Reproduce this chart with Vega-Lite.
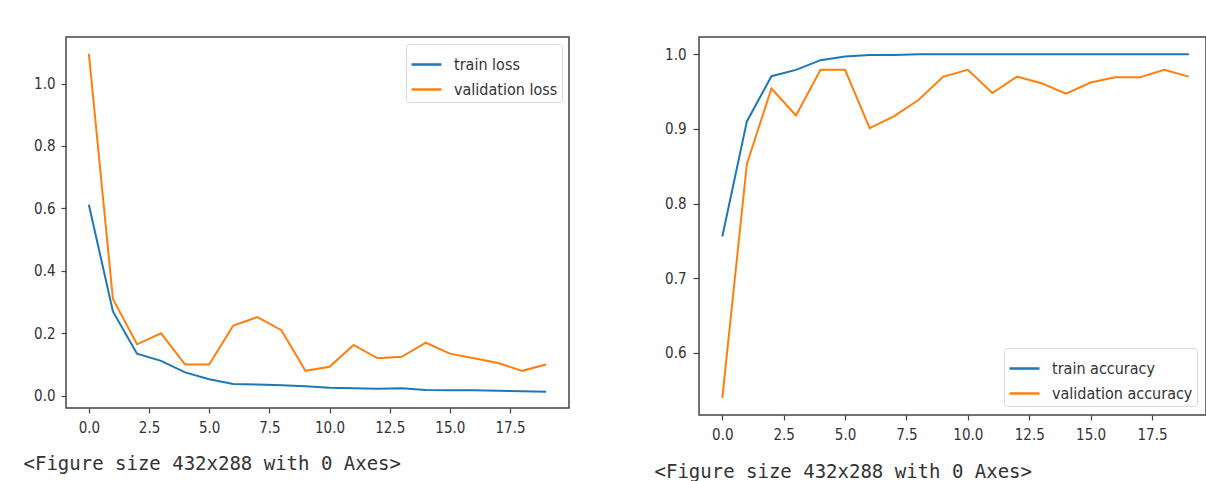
{
  "$schema": "https://vega.github.io/schema/vega-lite/v6.json",
  "padding": {"left": 22, "top": 36, "right": 0, "bottom": 0},
  "bounds": "flush",
  "spacing": 130,
  "background": "white",
  "resolve": {"scale": {"color": "independent"}, "legend": {"color": "independent"}},
  "datasets": {
    "loss": [
      {"epoch": 0, "series": "train loss", "value": 0.612},
      {"epoch": 1, "series": "train loss", "value": 0.27},
      {"epoch": 2, "series": "train loss", "value": 0.135},
      {"epoch": 3, "series": "train loss", "value": 0.112},
      {"epoch": 4, "series": "train loss", "value": 0.075},
      {"epoch": 5, "series": "train loss", "value": 0.053},
      {"epoch": 6, "series": "train loss", "value": 0.038},
      {"epoch": 7, "series": "train loss", "value": 0.036},
      {"epoch": 8, "series": "train loss", "value": 0.034},
      {"epoch": 9, "series": "train loss", "value": 0.031},
      {"epoch": 10, "series": "train loss", "value": 0.026},
      {"epoch": 11, "series": "train loss", "value": 0.024},
      {"epoch": 12, "series": "train loss", "value": 0.023},
      {"epoch": 13, "series": "train loss", "value": 0.024},
      {"epoch": 14, "series": "train loss", "value": 0.019},
      {"epoch": 15, "series": "train loss", "value": 0.018},
      {"epoch": 16, "series": "train loss", "value": 0.018},
      {"epoch": 17, "series": "train loss", "value": 0.016},
      {"epoch": 18, "series": "train loss", "value": 0.015},
      {"epoch": 19, "series": "train loss", "value": 0.013},
      {"epoch": 0, "series": "validation loss", "value": 1.095},
      {"epoch": 1, "series": "validation loss", "value": 0.31},
      {"epoch": 2, "series": "validation loss", "value": 0.165},
      {"epoch": 3, "series": "validation loss", "value": 0.2},
      {"epoch": 4, "series": "validation loss", "value": 0.1},
      {"epoch": 5, "series": "validation loss", "value": 0.1},
      {"epoch": 6, "series": "validation loss", "value": 0.225},
      {"epoch": 7, "series": "validation loss", "value": 0.252},
      {"epoch": 8, "series": "validation loss", "value": 0.21},
      {"epoch": 9, "series": "validation loss", "value": 0.08},
      {"epoch": 10, "series": "validation loss", "value": 0.093},
      {"epoch": 11, "series": "validation loss", "value": 0.163},
      {"epoch": 12, "series": "validation loss", "value": 0.12},
      {"epoch": 13, "series": "validation loss", "value": 0.125},
      {"epoch": 14, "series": "validation loss", "value": 0.17},
      {"epoch": 15, "series": "validation loss", "value": 0.135},
      {"epoch": 16, "series": "validation loss", "value": 0.12},
      {"epoch": 17, "series": "validation loss", "value": 0.105},
      {"epoch": 18, "series": "validation loss", "value": 0.08},
      {"epoch": 19, "series": "validation loss", "value": 0.1}
    ],
    "acc": [
      {"epoch": 0, "series": "train accuracy", "value": 0.756},
      {"epoch": 1, "series": "train accuracy", "value": 0.91},
      {"epoch": 2, "series": "train accuracy", "value": 0.9705},
      {"epoch": 3, "series": "train accuracy", "value": 0.979},
      {"epoch": 4, "series": "train accuracy", "value": 0.992},
      {"epoch": 5, "series": "train accuracy", "value": 0.997},
      {"epoch": 6, "series": "train accuracy", "value": 0.999},
      {"epoch": 7, "series": "train accuracy", "value": 0.999},
      {"epoch": 8, "series": "train accuracy", "value": 1.0},
      {"epoch": 9, "series": "train accuracy", "value": 1.0},
      {"epoch": 10, "series": "train accuracy", "value": 1.0},
      {"epoch": 11, "series": "train accuracy", "value": 1.0},
      {"epoch": 12, "series": "train accuracy", "value": 1.0},
      {"epoch": 13, "series": "train accuracy", "value": 1.0},
      {"epoch": 14, "series": "train accuracy", "value": 1.0},
      {"epoch": 15, "series": "train accuracy", "value": 1.0},
      {"epoch": 16, "series": "train accuracy", "value": 1.0},
      {"epoch": 17, "series": "train accuracy", "value": 1.0},
      {"epoch": 18, "series": "train accuracy", "value": 1.0},
      {"epoch": 19, "series": "train accuracy", "value": 1.0},
      {"epoch": 0, "series": "validation accuracy", "value": 0.54},
      {"epoch": 1, "series": "validation accuracy", "value": 0.853},
      {"epoch": 2, "series": "validation accuracy", "value": 0.954},
      {"epoch": 3, "series": "validation accuracy", "value": 0.918},
      {"epoch": 4, "series": "validation accuracy", "value": 0.979},
      {"epoch": 5, "series": "validation accuracy", "value": 0.979},
      {"epoch": 6, "series": "validation accuracy", "value": 0.901},
      {"epoch": 7, "series": "validation accuracy", "value": 0.917},
      {"epoch": 8, "series": "validation accuracy", "value": 0.939},
      {"epoch": 9, "series": "validation accuracy", "value": 0.97},
      {"epoch": 10, "series": "validation accuracy", "value": 0.979},
      {"epoch": 11, "series": "validation accuracy", "value": 0.948},
      {"epoch": 12, "series": "validation accuracy", "value": 0.97},
      {"epoch": 13, "series": "validation accuracy", "value": 0.961},
      {"epoch": 14, "series": "validation accuracy", "value": 0.947},
      {"epoch": 15, "series": "validation accuracy", "value": 0.962},
      {"epoch": 16, "series": "validation accuracy", "value": 0.969},
      {"epoch": 17, "series": "validation accuracy", "value": 0.969},
      {"epoch": 18, "series": "validation accuracy", "value": 0.979},
      {"epoch": 19, "series": "validation accuracy", "value": 0.97}
    ]
  },
  "config": {
    "view": {"stroke": "#444", "strokeWidth": 1.5},
    "axis": {
      "grid": false,
      "domain": false,
      "tickColor": "#444",
      "tickSize": 5,
      "tickWidth": 1.2,
      "labelFont": "DejaVu Sans Condensed",
      "labelFontSize": 15,
      "labelColor": "#333",
      "labelFlush": false,
      "labelOverlap": false,
      "titleFont": "DejaVu Sans Mono",
      "titleFontSize": 19,
      "titleFontWeight": "normal",
      "titleColor": "#333"
    },
    "legend": {
      "symbolType": "stroke",
      "symbolStrokeWidth": 2.5,
      "symbolSize": 900,
      "labelFont": "DejaVu Sans Condensed",
      "labelFontSize": 16,
      "labelColor": "#333",
      "labelOffset": 11,
      "padding": 4,
      "rowPadding": -4,
      "strokeColor": "#d8d8d8",
      "fillColor": "white",
      "cornerRadius": 3
    }
  },
  "hconcat": [
    {
      "width": 503,
      "height": 371,
      "data": {"name": "loss"},
      "mark": {"type": "line", "strokeWidth": 2},
      "encoding": {
        "x": {
          "field": "epoch",
          "type": "quantitative",
          "scale": {"domain": [-0.95, 19.95], "nice": false, "zero": false},
          "axis": {
            "values": [0, 2.5, 5, 7.5, 10, 12.5, 15, 17.5],
            "format": ".1f",
            "labelPadding": 7,
            "title": "<Figure size 432x288 with 0 Axes>",
            "titleX": -43,
            "titleY": 55,
            "titleAlign": "left",
            "titleAnchor": "start",
            "titleBaseline": "middle"
          }
        },
        "y": {
          "field": "value",
          "type": "quantitative",
          "scale": {"domain": [-0.039, 1.149], "nice": false, "zero": false},
          "axis": {
            "values": [0, 0.2, 0.4, 0.6, 0.8, 1.0],
            "format": ".1f",
            "labelPadding": 6,
            "title": null
          }
        },
        "color": {
          "field": "series",
          "type": "nominal",
          "scale": {"domain": ["train loss", "validation loss"], "range": ["#1f77b4", "#ff7f0e"]},
          "legend": {"orient": "top-right", "offset": 7, "title": null}
        }
      }
    },
    {
      "width": 507,
      "height": 378,
      "data": {"name": "acc"},
      "mark": {"type": "line", "strokeWidth": 2},
      "encoding": {
        "x": {
          "field": "epoch",
          "type": "quantitative",
          "scale": {"domain": [-0.95, 19.7], "nice": false, "zero": false},
          "axis": {
            "values": [0, 2.5, 5, 7.5, 10, 12.5, 15, 17.5],
            "format": ".1f",
            "labelPadding": 7,
            "title": "<Figure size 432x288 with 0 Axes>",
            "titleX": -45,
            "titleY": 56,
            "titleAlign": "left",
            "titleAnchor": "start",
            "titleBaseline": "middle"
          }
        },
        "y": {
          "field": "value",
          "type": "quantitative",
          "scale": {"domain": [0.517, 1.023], "nice": false, "zero": false},
          "axis": {
            "values": [0.6, 0.7, 0.8, 0.9, 1.0],
            "format": ".1f",
            "labelPadding": 7,
            "tickSize": 6,
            "title": null
          }
        },
        "color": {
          "field": "series",
          "type": "nominal",
          "scale": {"domain": ["train accuracy", "validation accuracy"], "range": ["#1f77b4", "#ff7f0e"]},
          "legend": {"orient": "bottom-right", "offset": 9, "title": null}
        }
      }
    }
  ]
}
